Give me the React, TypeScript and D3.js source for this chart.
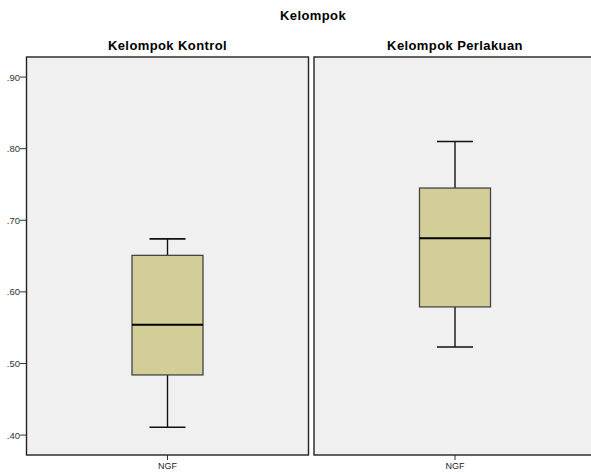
import React from "react";
import * as d3 from "d3";

const groups = ["Kelompok Kontrol", "Kelompok Perlakuan"];
const variable = "NGF";
const whiskerLow = [0.411, 0.523];
const q1 = [0.484, 0.579];
const median = [0.554, 0.675];
const q3 = [0.651, 0.745];
const whiskerHigh = [0.674, 0.81];
const yTicks = [0.4, 0.5, 0.6, 0.7, 0.8, 0.9];

const W = 591;
const H = 474;
const top = 57;
const bottom = 455;
const panelX = [26.5, 314];
const panelW = 282;

export default function App() {
  const y = d3.scaleLinear().domain([0.3722, 0.928]).range([bottom, top]);
  const fmt = (v: number) => d3.format(".2f")(v).replace(/^0/, "");
  const boxW = 71;
  const capW = 36;
  return (
    <svg
      width={W}
      height={H}
      style={{ position: "absolute", left: 0, top: 0, fontFamily: "'Liberation Sans', Arial, sans-serif" }}
    >
      <rect x={0} y={0} width={W} height={H} fill="#ffffff" />
      <text x={313} y={20} textAnchor="middle" fontSize={13} letterSpacing={0.4} fontWeight="bold" fill="#000">
        Kelompok
      </text>
      {groups.map((g, i) => {
        const x0 = panelX[i];
        const cx = x0 + panelW / 2;
        return (
          <g key={g}>
            <text x={cx} y={50} textAnchor="middle" fontSize={13} letterSpacing={0.4} fontWeight="bold" fill="#000">
              {g}
            </text>
            <rect x={x0} y={top} width={panelW} height={bottom - top} fill="#f0f0f0" stroke="#222" strokeWidth={1.4} />
            <line x1={cx} x2={cx} y1={y(whiskerHigh[i])} y2={y(q3[i])} stroke="#111" strokeWidth={1.4} />
            <line x1={cx} x2={cx} y1={y(q1[i])} y2={y(whiskerLow[i])} stroke="#111" strokeWidth={1.4} />
            <line x1={cx - capW / 2} x2={cx + capW / 2} y1={y(whiskerHigh[i])} y2={y(whiskerHigh[i])} stroke="#111" strokeWidth={1.6} />
            <line x1={cx - capW / 2} x2={cx + capW / 2} y1={y(whiskerLow[i])} y2={y(whiskerLow[i])} stroke="#111" strokeWidth={1.6} />
            <rect
              x={cx - boxW / 2}
              y={y(q3[i])}
              width={boxW}
              height={y(q1[i]) - y(q3[i])}
              fill="#d3ce98"
              stroke="#444"
              strokeWidth={1.3}
            />
            <line x1={cx - boxW / 2} x2={cx + boxW / 2} y1={y(median[i])} y2={y(median[i])} stroke="#000" strokeWidth={2} />
            <line x1={cx} x2={cx} y1={bottom} y2={bottom + 5} stroke="#333" strokeWidth={1} />
            <text x={cx} y={bottom + 14} textAnchor="middle" fontSize={9} fill="#222">
              {variable}
            </text>
          </g>
        );
      })}
      {yTicks.map((t) => (
        <g key={t}>
          <line x1={20} x2={26.5} y1={y(t)} y2={y(t)} stroke="#333" strokeWidth={1} />
          <text x={20} y={y(t) + 3.5} textAnchor="end" fontSize={9.5} fill="#333">
            {fmt(t)}
          </text>
        </g>
      ))}
    </svg>
  );
}
